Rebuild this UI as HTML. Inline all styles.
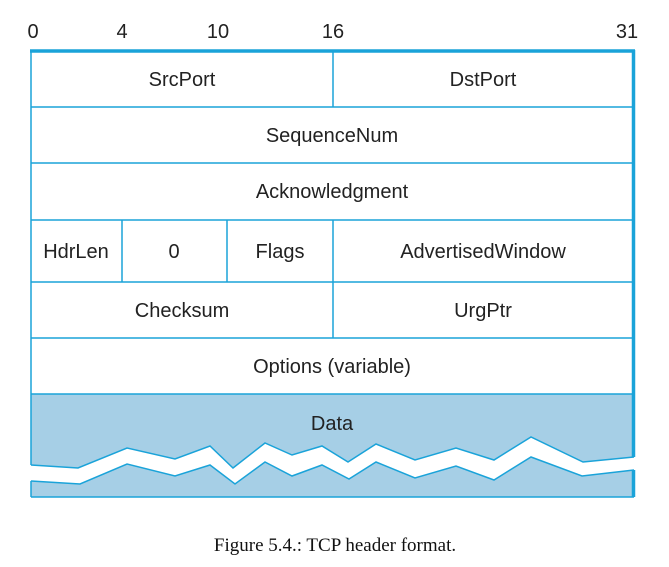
<!DOCTYPE html>
<html><head><style>
body{margin:0;background:#fff;}
svg{display:block;}
</style></head><body>
<svg width="669" height="567" viewBox="0 0 669 567" xmlns="http://www.w3.org/2000/svg">
<g font-family="Liberation Sans, sans-serif" font-size="20" fill="#222">
<text x="33" y="38" text-anchor="middle">0</text>
<text x="122" y="38" text-anchor="middle">4</text>
<text x="218" y="38" text-anchor="middle">10</text>
<text x="333" y="38" text-anchor="middle">16</text>
<text x="627" y="38" text-anchor="middle">31</text>
</g>
<rect x="31" y="394" width="603" height="103" fill="#a6cfe6"/>
<polygon points="31,465 78,468 127,448 175,459 210,446 233,468 265,443 292,455 322,446 348,462 376,444 415,460 456,448 494,460 531,437 583,462 634,457 634,470 582,476 531,457 494,480 456,466 415,478 376,462 349,479 322,465 292,476 265,462 235,484 210,465 175,476 127,464 80,484 31,481" fill="#fff"/>
<polyline points="31,465 78,468 127,448 175,459 210,446 233,468 265,443 292,455 322,446 348,462 376,444 415,460 456,448 494,460 531,437 583,462 634,457" fill="none" stroke="#1aa3d9" stroke-width="1.5"/>
<polyline points="31,481 80,484 127,464 175,476 210,465 235,484 265,462 292,476 322,465 349,479 376,462 415,478 456,466 494,480 531,457 582,476 634,470" fill="none" stroke="#1aa3d9" stroke-width="1.5"/>
<g stroke="#1aa3d9" stroke-width="1.5" fill="none">
<line x1="31" y1="50" x2="31" y2="465"/>
<line x1="31" y1="481" x2="31" y2="497"/>
<line x1="31" y1="497" x2="634" y2="497"/>
<line x1="31" y1="107" x2="634" y2="107"/>
<line x1="31" y1="163" x2="634" y2="163"/>
<line x1="31" y1="220" x2="634" y2="220"/>
<line x1="31" y1="282" x2="634" y2="282"/>
<line x1="31" y1="338" x2="634" y2="338"/>
<line x1="31" y1="394" x2="634" y2="394"/>
<line x1="333" y1="50" x2="333" y2="107"/>
<line x1="333" y1="220" x2="333" y2="338"/>
<line x1="122" y1="220" x2="122" y2="282"/>
<line x1="227" y1="220" x2="227" y2="282"/>
</g>
<line x1="30" y1="51" x2="635" y2="51" stroke="#1aa3d9" stroke-width="3.5"/>
<line x1="633.5" y1="50" x2="633.5" y2="457" stroke="#1aa3d9" stroke-width="3.5"/>
<line x1="633.5" y1="470" x2="633.5" y2="497" stroke="#1aa3d9" stroke-width="3.5"/>
<g font-family="Liberation Sans, sans-serif" font-size="20" fill="#222" text-anchor="middle">
<text x="182" y="86">SrcPort</text>
<text x="483" y="86">DstPort</text>
<text x="332" y="142">SequenceNum</text>
<text x="332" y="198">Acknowledgment</text>
<text x="76" y="258">HdrLen</text>
<text x="174" y="258">0</text>
<text x="280" y="258">Flags</text>
<text x="483" y="258">AdvertisedWindow</text>
<text x="182" y="317">Checksum</text>
<text x="483" y="317">UrgPtr</text>
<text x="332" y="373">Options (variable)</text>
<text x="332" y="430">Data</text>
</g>
<text x="335" y="551" font-family="Liberation Serif, serif" font-size="19" fill="#111" text-anchor="middle">Figure 5.4.: TCP header format.</text>
</svg>
</body></html>
